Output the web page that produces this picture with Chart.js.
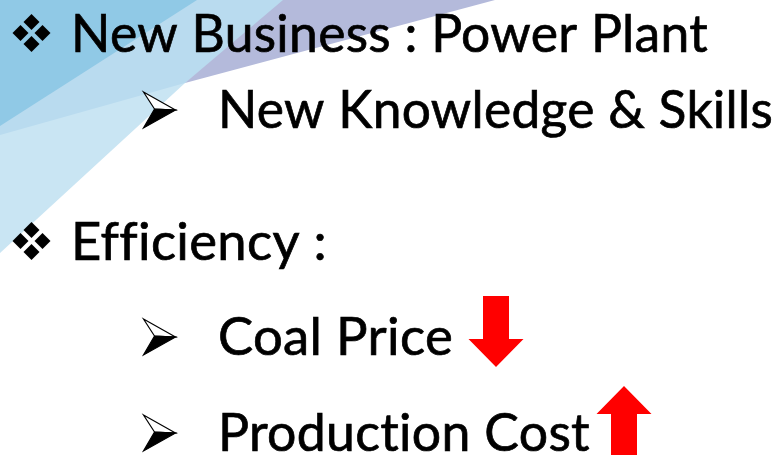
<!DOCTYPE html>
<html>
<head>
<meta charset="utf-8">
<script src="https://cdn.jsdelivr.net/npm/chart.js@4/dist/chart.umd.min.js"></script>
<style>
  html, body { margin: 0; padding: 0; background: #fff; }
  canvas { display: block; }
</style>
</head>
<body>
<canvas id="slide" width="777" height="455"></canvas>
<script>
// slide content
const headings = ['New Business : Power Plant', 'Efficiency :'];
const subItems = [['New Knowledge & Skills'], ['Coal Price', 'Production Cost']];
// arrow next to each sub item: -1 down, 1 up, 0 none
const trends = [[0], [-1, 1]];

// layout (slide units = pixels)
const headBaselines = [52, 260];
const subBaselines = [[128], [355, 451]];
const headWidths = [637, 256];
const subWidths = [[555], [235, 372]];
const arrowX = [[0], [496, 624]];
const arrowTop = [[0], [296, 386]];

const textFont = 'Lato';
const fontSize = 52;

function poly(ctx, X, Y, pts, color) {
  ctx.beginPath();
  pts.forEach((p, i) => i ? ctx.lineTo(X(p[0]), Y(p[1])) : ctx.moveTo(X(p[0]), Y(p[1])));
  ctx.closePath();
  ctx.fillStyle = color;
  ctx.fill();
}

function fitText(ctx, text, x, y, width) {
  ctx.font = fontSize + 'px ' + textFont;
  ctx.letterSpacing = '0.3px'; // keeps "ffi" / "ti" as separate letters
  const w = ctx.measureText(text).width;
  ctx.save();
  ctx.translate(x, y);
  ctx.scale(width / w, 1);
  ctx.fillStyle = '#000';
  ctx.strokeStyle = '#000';
  ctx.lineWidth = 0.7;
  ctx.textBaseline = 'alphabetic';
  ctx.fillText(text, 0, 0);
  ctx.strokeText(text, 0, 0);
  ctx.restore();
}

function diamondBullet(ctx, cx, cy) {
  const d = 11, r = 8;
  ctx.fillStyle = '#000';
  [[0, -d], [-d, 0], [d, 0], [0, d]].forEach(o => {
    ctx.beginPath();
    ctx.moveTo(cx + o[0], cy + o[1] - r);
    ctx.lineTo(cx + o[0] + r, cy + o[1]);
    ctx.lineTo(cx + o[0], cy + o[1] + r);
    ctx.lineTo(cx + o[0] - r, cy + o[1]);
    ctx.closePath();
    ctx.fill();
  });
}

function arrowBullet(ctx, x, base) {
  const top = base - 36, mid = base - 18, bot = base;
  ctx.beginPath();
  ctx.moveTo(x, top);
  ctx.lineTo(x + 32, mid);
  ctx.lineTo(x + 11, mid - 1);
  ctx.closePath();
  ctx.fillStyle = '#fff';
  ctx.fill();
  ctx.lineWidth = 1.2;
  ctx.strokeStyle = '#000';
  ctx.stroke();
  ctx.beginPath();
  ctx.moveTo(x + 11, mid - 1);
  ctx.lineTo(x + 32, mid);
  ctx.lineTo(x, bot);
  ctx.closePath();
  ctx.fillStyle = '#000';
  ctx.fill();
  ctx.stroke();
}

function trendArrow(ctx, cx, top, dir) {
  const len = 71, head = 28, hw = 27.5, sw = 13;
  ctx.save();
  ctx.translate(cx, top + len / 2);
  if (dir > 0) ctx.rotate(Math.PI);
  const t = -len / 2, b = len / 2;
  ctx.beginPath();
  ctx.moveTo(-sw, t);
  ctx.lineTo(sw, t);
  ctx.lineTo(sw, b - head);
  ctx.lineTo(hw, b - head);
  ctx.lineTo(0, b);
  ctx.lineTo(-hw, b - head);
  ctx.lineTo(-sw, b - head);
  ctx.closePath();
  ctx.fillStyle = '#ff0000';
  ctx.fill();
  ctx.restore();
}

const slidePlugin = {
  id: 'slide',
  beforeDraw(chart) {
    const ctx = chart.ctx;
    const X = v => chart.scales.x.getPixelForValue(v);
    const Y = v => chart.scales.y.getPixelForValue(v);
    ctx.save();
    ctx.fillStyle = '#fff';
    ctx.fillRect(0, 0, chart.width, chart.height);
    poly(ctx, X, Y, [[0, 0], [300, 0], [185, 83], [0, 253]], '#c9e5f3');
    poly(ctx, X, Y, [[0, 0], [285, 0], [185, 83], [0, 135]], '#b9dbef');
    poly(ctx, X, Y, [[283, 0], [495, 0], [185, 83]], '#b4badb');
    poly(ctx, X, Y, [[0, 0], [197, 0], [0, 126]], '#90c9e6');
    ctx.restore();
  },
  afterDraw(chart) {
    const ctx = chart.ctx;
    const X = v => chart.scales.x.getPixelForValue(v);
    const Y = v => chart.scales.y.getPixelForValue(v);
    ctx.save();
    headings.forEach((h, i) => {
      const base = headBaselines[i];
      diamondBullet(ctx, X(31.5), Y(base - 19));
      fitText(ctx, h, X(71), Y(base), headWidths[i]);
      subItems[i].forEach((s, j) => {
        const sb = subBaselines[i][j];
        arrowBullet(ctx, X(143.5), Y(sb));
        fitText(ctx, s, X(218), Y(sb), subWidths[i][j]);
        if (trends[i][j] !== 0) {
          trendArrow(ctx, X(arrowX[i][j]), Y(arrowTop[i][j]), trends[i][j]);
        }
      });
    });
    ctx.restore();
  }
};

new Chart(document.getElementById('slide').getContext('2d'), {
  type: 'scatter',
  data: { datasets: [] },
  options: {
    responsive: false,
    devicePixelRatio: 1,
    animation: false,
    layout: { padding: 0 },
    plugins: { legend: { display: false }, tooltip: { enabled: false } },
    scales: {
      x: { type: 'linear', min: 0, max: 777, display: false },
      y: { type: 'linear', min: 0, max: 455, reverse: true, display: false }
    }
  },
  plugins: [slidePlugin]
});
</script>
</body>
</html>
